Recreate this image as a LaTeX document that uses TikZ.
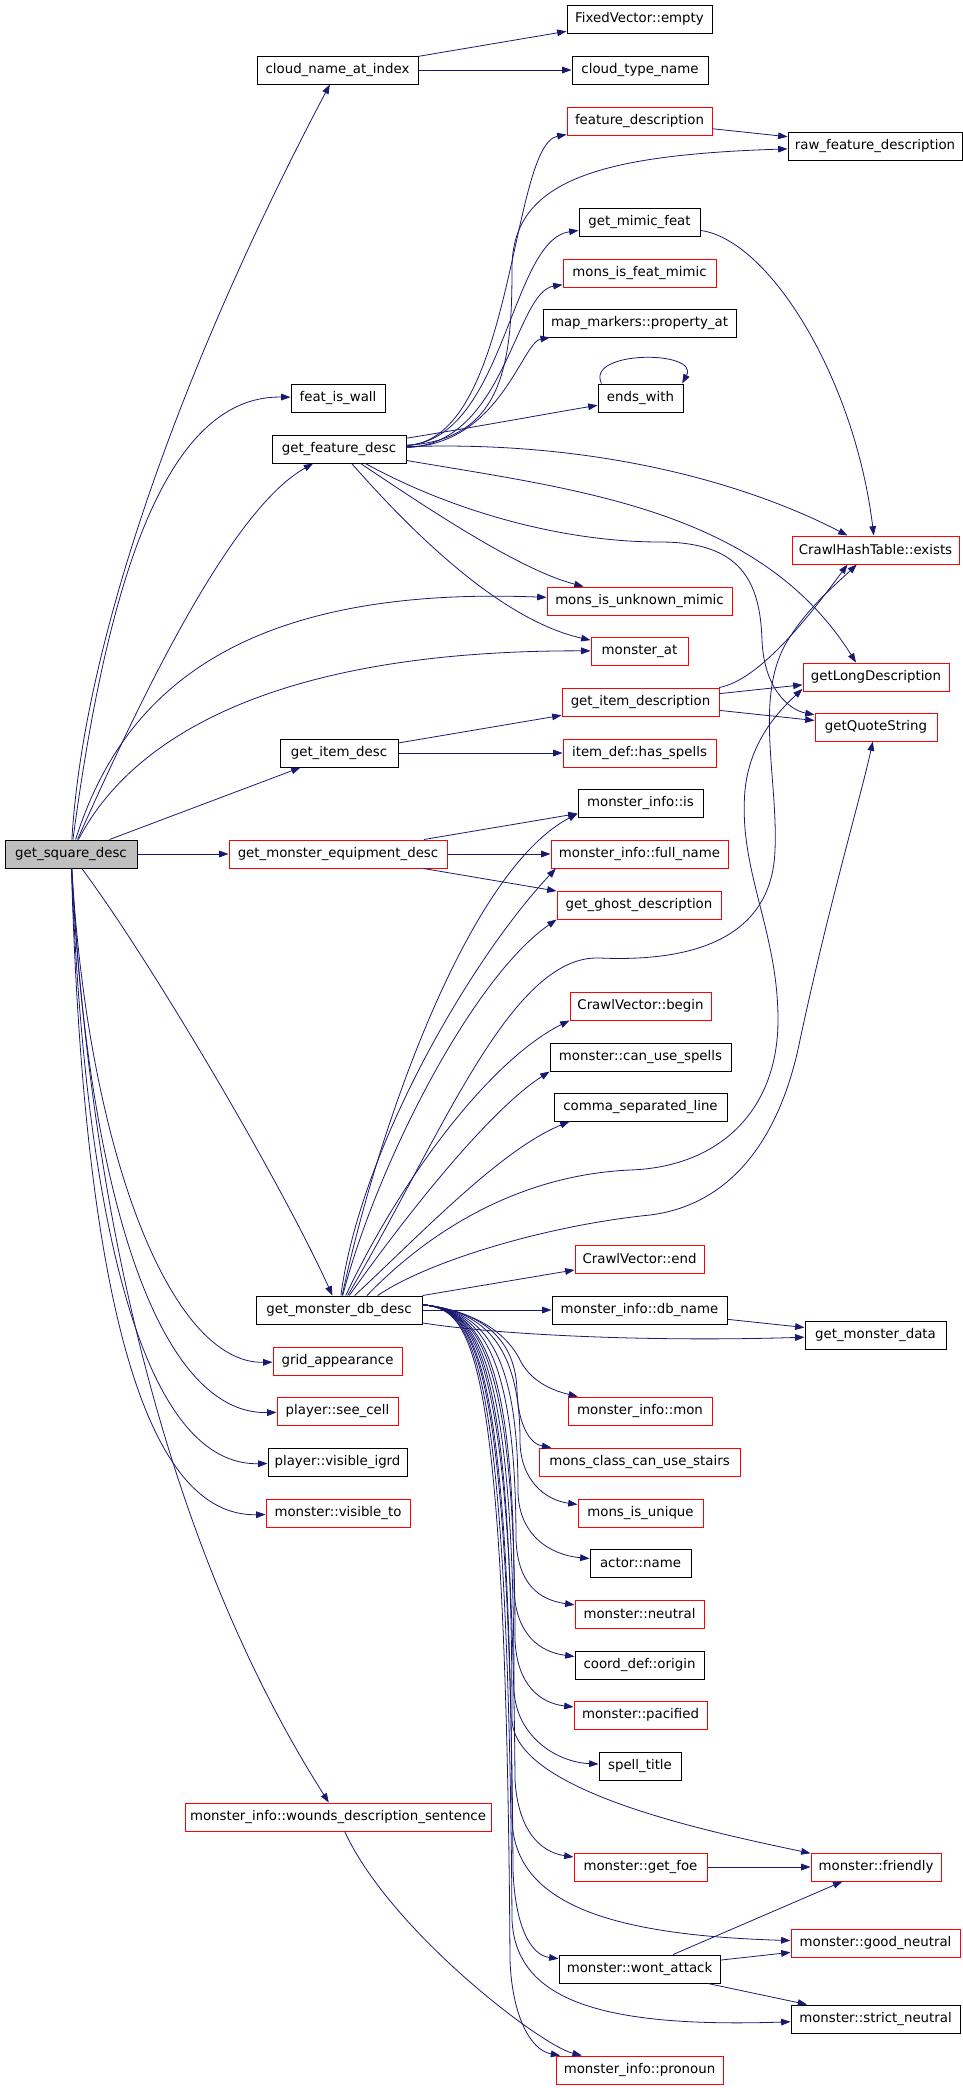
\documentclass[tikz,border=0pt]{standalone}
\usepackage{fontspec}
\setmainfont{DejaVu Sans}
\usetikzlibrary{arrows.meta}
\definecolor{callblue}{HTML}{191970}
\definecolor{rootgray}{HTML}{BFBFBF}
\tikzset{
  fn/.style={draw=black, fill=white, line width=0.75pt, minimum height=21pt, inner xsep=2pt, inner ysep=0pt, font=\fontsize{10}{12}\selectfont},
  fnred/.style={fn, draw=red},
  root/.style={fn, fill=rootgray},
  call/.style={draw=callblue, line width=0.6pt, -{Triangle[length=7pt,width=5pt]}},
}
\begin{document}
\begin{tikzpicture}[x=0.75pt,y=-0.75pt]
\useasboundingbox (0,0) rectangle (963,2088);
% functions
\node[root,minimum width=99pt] (gsd) at (71,854) {get\_square\_desc};
\node[fn,minimum width=120.75pt] (cnai) at (337.5,70) {cloud\_name\_at\_index};
\node[fn,minimum width=108.75pt] (fve) at (639.5,19) {FixedVector::empty};
\node[fn,minimum width=102pt] (ctn) at (640,70) {cloud\_type\_name};
\node[fnred,minimum width=108.75pt] (fd) at (639.5,121) {feature\_description};
\node[fn,minimum width=130.5pt] (rfd) at (875,146) {raw\_feature\_description};
\node[fn,minimum width=90.75pt] (gmf) at (639.5,222) {get\_mimic\_feat};
\node[fnred,minimum width=114.75pt] (mifm) at (639.5,273) {mons\_is\_feat\_mimic};
\node[fn,minimum width=144.75pt] (mmpa) at (639.5,323) {map\_markers::property\_at};
\node[fn,minimum width=63.75pt] (ew) at (640.5,398) {ends\_with};
\node[fn,minimum width=70.5pt] (fiw) at (338,398) {feat\_is\_wall};
\node[fn,minimum width=100.5pt] (gfd) at (339,449) {get\_feature\_desc};
\node[fnred,minimum width=125.25pt] (che) at (875.5,550) {CrawlHashTable::exists};
\node[fnred,minimum width=138.75pt] (miun) at (639.5,601) {mons\_is\_unknown\_mimic};
\node[fnred,minimum width=72.75pt] (mat) at (639.5,651) {monster\_at};
\node[fnred,minimum width=109.5pt] (gld) at (876,677) {getLongDescription};
\node[fnred,minimum width=117.75pt] (gid) at (640.5,702) {get\_item\_description};
\node[fnred,minimum width=91.5pt] (gqs) at (876,727) {getQuoteString};
\node[fn,minimum width=88.5pt] (gidc) at (339,753) {get\_item\_desc};
\node[fnred,minimum width=114.75pt] (ihs) at (639.5,753) {item\_def::has\_spells};
\node[fn,minimum width=93.75pt] (mii) at (640.5,803) {monster\_info::is};
\node[fnred,minimum width=163.5pt] (gmed) at (338,854) {get\_monster\_equipment\_desc};
\node[fnred,minimum width=132.75pt] (mifn) at (639.5,854) {monster\_info::full\_name};
\node[fnred,minimum width=123pt] (ggd) at (639,905) {get\_ghost\_description};
\node[fnred,minimum width=105.75pt] (cvb) at (640.5,1006) {CrawlVector::begin};
\node[fn,minimum width=135.75pt] (mcus) at (640.5,1057) {monster::can\_use\_spells};
\node[fn,minimum width=129.75pt] (csl) at (640.5,1107) {comma\_separated\_line};
\node[fnred,minimum width=96.75pt] (cve) at (639.5,1259) {CrawlVector::end};
\node[fn,minimum width=124.5pt] (gmdb) at (339,1310) {get\_monster\_db\_desc};
\node[fn,minimum width=131.25pt] (midn) at (639.5,1310) {monster\_info::db\_name};
\node[fn,minimum width=105.75pt] (gmda) at (875.5,1335) {get\_monster\_data};
\node[fnred,minimum width=96.75pt] (ga) at (337.5,1361) {grid\_appearance};
\node[fnred,minimum width=108pt] (mim) at (640,1411) {monster\_info::mon};
\node[fnred,minimum width=90.75pt] (psc) at (337.5,1411) {player::see\_cell};
\node[fn,minimum width=104.25pt] (pvi) at (337.5,1462) {player::visible\_igrd};
\node[fnred,minimum width=150.75pt] (mccus) at (639.5,1462) {mons\_class\_can\_use\_stairs};
\node[fnred,minimum width=108pt] (mvt) at (338,1513) {monster::visible\_to};
\node[fnred,minimum width=93.75pt] (miu) at (640.5,1513) {mons\_is\_unique};
\node[fn,minimum width=75.75pt] (an) at (640.5,1563) {actor::name};
\node[fnred,minimum width=96.75pt] (mn) at (639.5,1614) {monster::neutral};
\node[fn,minimum width=96.75pt] (cdo) at (639.5,1665) {coord\_def::origin};
\node[fnred,minimum width=99.75pt] (mp) at (640.5,1715) {monster::pacified};
\node[fn,minimum width=61.5pt] (st) at (640,1766) {spell\_title};
\node[fnred,minimum width=229.5pt] (miwds) at (338,1817) {monster\_info::wounds\_description\_sentence};
\node[fnred,minimum width=99.75pt] (mgf) at (640.5,1867) {monster::get\_foe};
\node[fnred,minimum width=97.5pt] (mf) at (876,1867) {monster::friendly};
\node[fnred,minimum width=126.75pt] (mgn) at (875.5,1943) {monster::good\_neutral};
\node[fn,minimum width=120.75pt] (mwa) at (639.5,1969) {monster::wont\_attack};
\node[fn,minimum width=126.75pt] (msn) at (875.5,2019) {monster::strict\_neutral};
\node[fnred,minimum width=125.25pt] (mip) at (639.5,2070) {monster\_info::pronoun};
% calls of get_square_desc
\draw[call] (gsd) .. controls (85,620) and (200,330) .. (cnai);
\draw[call] (gsd) .. controls (105,600) and (160,395) .. (fiw);
\draw[call] (gsd) .. controls (140,700) and (230,510) .. (gfd);
\draw[call] (gsd) .. controls (120,700) and (230,585) .. (miun);
\draw[call] (gsd) .. controls (130,740) and (270,650) .. (mat);
\draw[call] (gsd) -- (gidc);
\draw[call] (gsd) -- (gmed);
\draw[call] (gsd) .. controls (150,960) and (280,1180) .. (gmdb);
\draw[call] (gsd) .. controls (88,1150) and (170,1364) .. (ga);
\draw[call] (gsd) .. controls (88,1200) and (160,1415) .. (psc);
\draw[call] (gsd) .. controls (86,1250) and (150,1466) .. (pvi);
\draw[call] (gsd) .. controls (84,1300) and (145,1517) .. (mvt);
\draw[call] (gsd) .. controls (95,1300) and (200,1600) .. (miwds);
\draw[call] (cnai) -- (fve);
\draw[call] (cnai) -- (ctn);
% calls of get_feature_desc
\draw[call] (gfd) .. controls (515,440) and (510,145) .. (fd);
\draw[call] (gfd) .. controls (505,440) and (512,360) .. (512,268) .. controls (512,180) and (600,155) .. (rfd);
\draw[call] (gfd) .. controls (505,440) and (510,240) .. (gmf);
\draw[call] (gfd) .. controls (505,445) and (515,292) .. (mifm);
\draw[call] (gfd) .. controls (500,445) and (522,342) .. (mmpa);
\draw[call] (gfd) .. controls (470,428) and (540,415) .. (ew);
\draw[call] ([xshift=3pt]ew.north west) .. controls (585,350) and (700,350) .. ([xshift=-1pt]ew.north east);
\draw[call] (gfd) .. controls (600,440) and (750,485) .. (che);
\draw[call] (gfd) .. controls (580,490) and (760,510) .. ([xshift=-15pt]gld.north);
\draw[call] (gfd) .. controls (450,510) and (560,542) .. (660,542) .. controls (740,542) and (760,580) .. (762,640) .. controls (764,690) and (790,710) .. (gqs);
\draw[call] (gfd) .. controls (430,510) and (520,570) .. (miun);
\draw[call] (gfd) .. controls (410,530) and (500,620) .. (mat);
\draw[call] (fd) -- (rfd);
\draw[call] (gmf) .. controls (770,240) and (855,380) .. (che);
% calls of get_item_desc
\draw[call] (gidc) -- (gid);
\draw[call] (gidc) -- (ihs);
\draw[call] (gid) .. controls (760,680) and (810,615) .. ([xshift=-21pt]che.south);
\draw[call] (gid) -- (gld);
\draw[call] (gid) -- (gqs);
% calls of get_monster_equipment_desc
\draw[call] (gmed) -- (mii);
\draw[call] (gmed) -- (mifn);
\draw[call] (gmed) -- (ggd);
% calls of get_monster_db_desc
\draw[call] (gmdb) .. controls (380,1120) and (470,870) .. ([yshift=-8pt]mii.west);
\draw[call] (gmdb) .. controls (360,1150) and (470,960) .. ([xshift=4pt]mifn.south west);
\draw[call] (gmdb) .. controls (375,1170) and (470,980) .. (ggd.south west);
\draw[call] (gmdb) .. controls (440,1140) and (510,954) .. (600,958) .. controls (690,962) and (772,940) .. (775,850) .. controls (778,780) and (755,700) .. (785,645) .. controls (805,610) and (835,585) .. ([xshift=-14pt]che.south);
\draw[call] (gmdb) .. controls (400,1180) and (490,1060) .. (cvb.south west);
\draw[call] (gmdb) .. controls (410,1210) and (490,1110) .. (mcus.south west);
\draw[call] (gmdb) .. controls (420,1235) and (500,1150) .. ([xshift=12pt]csl.south west);
\draw[call] ([xshift=21pt]gmdb.north) .. controls (430,1230) and (520,1175) .. (630,1170) .. controls (720,1167) and (778,1110) .. (778,1020) .. controls (778,930) and (738,870) .. (745,790) .. controls (750,740) and (780,710) .. ([yshift=2pt]gld.south west);
\draw[call] ([xshift=29pt]gmdb.north) .. controls (430,1260) and (550,1225) .. (650,1215) .. controls (730,1205) and (780,1140) .. (800,1040) .. controls (830,900) and (860,800) .. (gqs);
\draw[call] (gmdb.north east) -- (cve);
\draw[call] (gmdb) -- (midn);
\draw[call] (gmdb) .. controls (500,1335) and (650,1342) .. (gmda);
\draw[call] (midn) -- (gmda);
\draw[call] ([yshift=4pt]gmdb.east) .. controls (470,1310) and (505,1330) .. (520,1360) .. controls (530,1380) and (550,1390) .. (mim);
\draw[call] ([yshift=4pt]gmdb.east) .. controls (470,1310) and (515,1330) .. (517,1390) .. controls (518,1425) and (530,1444) .. (mccus);
\draw[call] ([yshift=4pt]gmdb.east) .. controls (470,1310) and (520,1330) .. (520,1440) .. controls (520,1480) and (545,1500) .. (miu);
\draw[call] ([yshift=4pt]gmdb.east) .. controls (470,1310) and (518,1330) .. (518,1490) .. controls (518,1535) and (550,1555) .. (an);
\draw[call] ([yshift=4pt]gmdb.east) .. controls (470,1310) and (516,1330) .. (516,1540) .. controls (518,1585) and (540,1600) .. (mn);
\draw[call] ([yshift=4pt]gmdb.east) .. controls (470,1310) and (514,1330) .. (514,1590) .. controls (516,1635) and (540,1652) .. (cdo);
\draw[call] ([yshift=4pt]gmdb.east) .. controls (470,1310) and (515,1330) .. (515,1640) .. controls (517,1685) and (540,1703) .. (mp);
\draw[call] ([yshift=4pt]gmdb.east) .. controls (470,1310) and (514,1330) .. (514,1690) .. controls (516,1735) and (555,1762) .. (st);
\draw[call] ([yshift=4pt]gmdb.east) .. controls (470,1310) and (512,1330) .. (512,1720) .. controls (515,1790) and (700,1830) .. (mf);
\draw[call] ([yshift=4pt]gmdb.east) .. controls (470,1310) and (512,1330) .. (515,1780) .. controls (518,1830) and (540,1852) .. (mgf);
\draw[call] ([yshift=4pt]gmdb.east) .. controls (470,1310) and (510,1330) .. (512,1820) .. controls (515,1900) and (600,1935) .. (mgn);
\draw[call] ([yshift=4pt]gmdb.east) .. controls (470,1310) and (510,1330) .. (513,1870) .. controls (515,1925) and (530,1955) .. (mwa);
\draw[call] ([yshift=4pt]gmdb.east) .. controls (470,1310) and (508,1330) .. (512,1920) .. controls (516,2000) and (600,2028) .. (msn);
\draw[call] ([yshift=4pt]gmdb.east) .. controls (470,1310) and (506,1330) .. (510,1960) .. controls (512,2015) and (530,2050) .. (mip);
% lower calls
\draw[call] (mgf) -- (mf);
\draw[call] (mwa) -- (mf);
\draw[call] (mwa) -- (mgn);
\draw[call] (mwa) -- (msn);
\draw[call] (miwds) .. controls (390,1930) and (540,2045) .. (mip);
\end{tikzpicture}
\end{document}
